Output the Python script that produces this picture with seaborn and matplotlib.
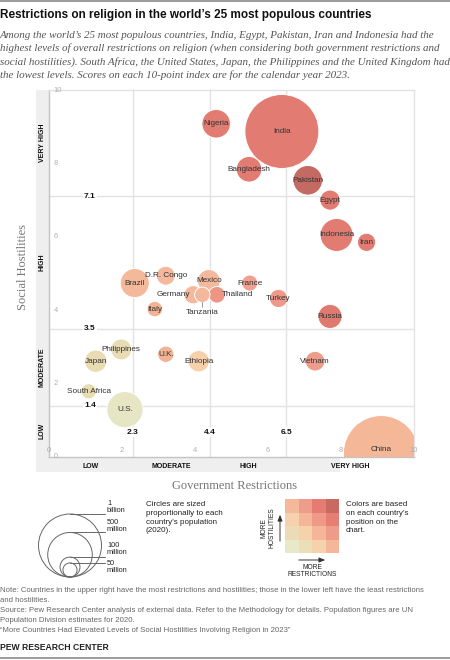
import matplotlib
matplotlib.use("Agg")
import matplotlib.pyplot as plt
import seaborn as sns
import pandas as pd
import numpy as np
from matplotlib.patches import Rectangle, Circle

sns.set_theme(style="white")
SANS = ['Liberation Sans Narrow', 'Liberation Sans', 'DejaVu Sans']
SERIF = ['Liberation Serif', 'DejaVu Serif']
plt.rcParams['font.family'] = SANS

# ---------------- data ----------------
countries = ["China", "India", "U.S.", "Indonesia", "Pakistan", "Brazil", "Nigeria",
             "Bangladesh", "Russia", "Mexico", "Japan", "Ethiopia", "Philippines",
             "Egypt", "Vietnam", "D.R. Congo", "Turkey", "Iran", "Germany",
             "Thailand", "U.K.", "France", "Italy", "Tanzania", "South Africa"]
gri = [9.1, 6.38, 2.08, 7.88, 7.09, 2.35, 4.58, 5.48, 7.70, 4.38, 1.28, 4.10, 1.98,
       7.70, 7.29, 3.20, 6.29, 8.70, 3.95, 4.60, 3.20, 5.50, 2.90, 4.20, 1.09]
shi = [0.1, 8.87, 1.29, 6.05, 7.54, 4.74, 9.08, 7.84, 3.83, 4.80, 2.61, 2.61, 2.93,
       7.0, 2.61, 4.94, 4.32, 5.85, 4.42, 4.42, 2.80, 4.74, 4.03, 4.42, 1.79]
population = [1439, 1380, 331, 274, 221, 213, 206, 165, 146, 129, 126, 115, 110,
              102, 97, 90, 84, 84, 84, 70, 68, 65, 60, 60, 59]  # millions, 2020

gri_thresholds = [2.3, 4.4, 6.5]
shi_thresholds = [1.4, 3.5, 7.1]
level_names = ["LOW", "MODERATE", "HIGH", "VERY HIGH"]
tick_values = [0, 2, 4, 6, 8, 10]
legend_pops = [1000, 500, 100, 50]
legend_labels = ["1\nbillion", "500\nmillion", "100\nmillion", "50\nmillion"]

# bivariate palette rows: bottom (low hostility) -> top ; cols: low -> very high restrictions
grid_colors = [
    ["#e8e9c8", "#ecdfb8", "#f5d2ac", "#f4b898"],
    ["#ebdcb5", "#f5d2ac", "#f4b598", "#ef9b8a"],
    ["#f6d1ad", "#f4b599", "#ef9a89", "#e67e74"],
    ["#f4b89a", "#ee9c8b", "#e47c72", "#c96a62"],
]
point_colors = {
    "China": "#f4b898", "India": "#e27c72", "U.S.": "#e6e6c4", "Indonesia": "#e27c72",
    "Pakistan": "#c56a62", "Brazil": "#f4b99b", "Nigeria": "#e27c72", "Bangladesh": "#e27c72",
    "Russia": "#e07a70", "Mexico": "#f4b89c", "Japan": "#e9dcb3", "Ethiopia": "#f5d0aa",
    "Philippines": "#e8dcb2", "Egypt": "#e27c72", "Vietnam": "#ee9c8c", "D.R. Congo": "#f4b89c",
    "Turkey": "#ee9a8a", "Iran": "#e27c72", "Germany": "#f4b89c", "Thailand": "#ee9585",
    "U.K.": "#f2b394", "France": "#f0a090", "Italy": "#f3b294", "Tanzania": "#f4b89c",
    "South Africa": "#e8dcb2",
}

df = pd.DataFrame({"country": countries, "gri": gri, "shi": shi, "pop": population})
df = df.sort_values("pop", ascending=False)

W, H = 450, 660
fig = plt.figure(figsize=(W / 100, H / 100), dpi=100)
fig.patch.set_facecolor("white")

def fx(px):
    return px / W

def fy(py):
    return 1 - py / H

# background/decor axes in pixel coordinates
deco = fig.add_axes([0, 0, 1, 1], zorder=0)
deco.set_xlim(0, W)
deco.set_ylim(H, 0)
deco.axis("off")

# grey bands
deco.add_patch(Rectangle((36, 90), 13, 382, color="#efefef", lw=0))
deco.add_patch(Rectangle((36, 457), 304, 15, color="#efefef", lw=0))
# rules
deco.plot([0, W], [1, 1], color="#8a8a8a", lw=1.2)
deco.plot([0, W], [658, 658], color="#8a8a8a", lw=1.2)

# main axes
AX_L, AX_R, AX_T, AX_B = 49, 414, 90, 457
ax = fig.add_axes([fx(AX_L), fy(AX_B), (AX_R - AX_L) / W, (AX_B - AX_T) / H], zorder=1)
ax.set_facecolor("white")
ax.set_xlim(0, 10)
ax.set_ylim(0, 10)

for t in gri_thresholds:
    ax.axvline(t, color="#e2e2e2", lw=1, zorder=0)
for t in shi_thresholds:
    ax.axhline(t, color="#e2e2e2", lw=1, zorder=0)

k = 2.057  # points^2 per million people
sns.scatterplot(data=df, x="gri", y="shi", hue="country", palette=point_colors,
                size="pop", sizes=(k * df["pop"].min(), k * df["pop"].max()),
                legend=False, edgecolor="white", linewidth=0.7, alpha=1, ax=ax, zorder=3)

# country labels
offsets = {"Germany": (-2, 0, "right"), "Thailand": (3.5, 0, "left"),
           "Tanzania": (0, -12.5, "center"), "China": (0, 3, "center")}
for _, r in df.iterrows():
    dx, dy, ha = offsets.get(r["country"], (0, 0, "center"))
    ax.annotate(r["country"], (r["gri"], r["shi"]), xytext=(dx, dy), textcoords="offset points",
                ha=ha, va="center", fontsize=5.9, color="#333333", zorder=5)
tz = df[df["country"] == "Tanzania"].iloc[0]
ax.plot([tz["gri"], tz["gri"]], [tz["shi"] - 0.19, tz["shi"] - 0.32], color="#888888", lw=0.6, zorder=4)

# threshold value labels
bb = dict(boxstyle="square,pad=0.15", fc="white", ec="none")
for t in shi_thresholds:
    ax.text(1.12, t, f"{t}", ha="center", va="center", fontsize=6, fontweight="bold",
            color="#111111", bbox=bb, zorder=2)
for t in gri_thresholds:
    ax.text(t, 0.68, f"{t}", ha="center", va="center", fontsize=6, fontweight="bold",
            color="#111111", bbox=bb, zorder=2)

# spines / ticks
for s in ["top", "right"]:
    ax.spines[s].set_color("#e2e2e2")
    ax.spines[s].set_linewidth(1)
for s in ["left", "bottom"]:
    ax.spines[s].set_color("#c4c4c4")
    ax.spines[s].set_linewidth(1)
ax.set_xticks(tick_values)
ax.set_yticks(tick_values)
ax.tick_params(axis="both", direction="in", length=3.5, width=0.7, color="#bbbbbb",
               labelleft=False, labelbottom=False)
ax.set_xlabel("")
ax.set_ylabel("")
for t in tick_values:
    ax.annotate(f"{t}", (0, t), xytext=(3.5, 0), textcoords="offset points",
                ha="left", va="center", fontsize=5.5, color="#b0b0b0", annotation_clip=False)
    if t > 0:
        ax.annotate(f"{t}", (t, 0), xytext=(0, 5), textcoords="offset points",
                    ha="center", va="center", fontsize=5.5, color="#b0b0b0", annotation_clip=False)
ax.annotate("0", (0, 0), xytext=(0, 5), textcoords="offset points",
            ha="center", va="center", fontsize=5.5, color="#b0b0b0", annotation_clip=False)

# level labels in the bands
gx = [0] + gri_thresholds + [10]
gy = [0] + shi_thresholds + [10]
for i, name in enumerate(level_names):
    xm = (gx[i] + gx[i + 1]) / 2
    ax.annotate(name, (xm, 0), xytext=(0, -6.5), textcoords="offset points", ha="center",
                va="center", fontsize=5, fontweight="bold", color="#111111", annotation_clip=False)
    ym = (gy[i] + gy[i + 1]) / 2
    ax.annotate(name, (0, ym), xytext=(-5, 0), textcoords="offset points", ha="center",
                va="center", rotation=90, fontsize=5, fontweight="bold", color="#111111",
                annotation_clip=False)

# axis titles
fig.text(fx(23), fy(267), "Social Hostilities", rotation=90, ha="center", va="center",
         fontsize=9, color="#777777", family=SERIF)
fig.text(fx(235), fy(486), "Government Restrictions", ha="center", va="center",
         fontsize=9, color="#777777", family=SERIF)

# title and subtitle
fig.text(fx(0), fy(15), "Restrictions on religion in the world\u2019s 25 most populous countries",
         ha="left", va="center", fontsize=8.5, fontweight="bold", color="#111111")
sub = ["Among the world\u2019s 25 most populous countries, India, Egypt, Pakistan, Iran and Indonesia had the",
       "highest levels of overall restrictions on religion (when considering both government restrictions and",
       "social hostilities). South Africa, the United States, Japan, the Philippines and the United Kingdom had",
       "the lowest levels. Scores on each 10-point index are for the calendar year 2023."]
for i, line in enumerate(sub):
    fig.text(fx(0), fy(35 + i * 13.3), line, ha="left", va="center", fontsize=7.95,
             style="italic", color="#555555", family=SERIF)

# size legend
cx, base = 70, 577
px_per_pt = 100 / 72
label_y = [507, 526, 549, 567]
for p, lab, ly in zip(legend_pops, legend_labels, label_y):
    rpx = np.sqrt(k * p) / 2 * px_per_pt
    deco.add_patch(Circle((cx, base - rpx), rpx, fill=False, ec="#666666", lw=0.7))
    top = base - 2 * rpx
    deco.plot([cx, 105], [top, top], color="#666666", lw=0.7)
    deco.text(107, ly, lab, ha="left", va="center", fontsize=5.3, color="#222222",
              linespacing=1.0)
deco.text(146, 501, "Circles are sized\nproportionally to each\ncountry\u2019s population\n(2020).",
          ha="left", va="top", fontsize=5.8, color="#222222", linespacing=1.35)

# colour legend
gx0, gy0, cs = 285, 499, 13.5
for row in range(4):
    for col in range(4):
        deco.add_patch(Rectangle((gx0 + col * cs, gy0 + (3 - row) * cs), cs, cs,
                                 color=grid_colors[row][col], lw=0))
deco.annotate("", xy=(280, 512), xytext=(280, 544),
              arrowprops=dict(arrowstyle="-|>,head_length=0.3,head_width=0.12", color="#333333", lw=0.7))
deco.text(268, 528, "MORE\nHOSTILITIES", rotation=90, ha="center", va="center", fontsize=4.8,
          color="#222222", linespacing=1.0)
deco.annotate("", xy=(328, 560), xytext=(296, 560),
              arrowprops=dict(arrowstyle="-|>,head_length=0.3,head_width=0.12", color="#333333", lw=0.7))
deco.text(312, 571, "MORE\nRESTRICTIONS", ha="center", va="center", fontsize=4.8,
          color="#222222", linespacing=1.0)
deco.text(346, 501, "Colors are based\non each country\u2019s\nposition on the\nchart.",
          ha="left", va="top", fontsize=5.8, color="#222222", linespacing=1.35)

# notes
notes = ["Note: Countries in the upper right have the most restrictions and hostilities; those in the lower left have the least restrictions",
         "and hostilities.",
         "Source: Pew Research Center analysis of external data. Refer to the Methodology for details. Population figures are UN",
         "Population Division estimates for 2020.",
         "\u201cMore Countries Had Elevated Levels of Social Hostilities Involving Religion in 2023\u201d"]
note_y = [591, 601, 611, 620, 631]
for line, yy in zip(notes, note_y):
    deco.text(0, yy, line, ha="left", va="center", fontsize=5.6, color="#666666")
deco.text(0, 648, "PEW RESEARCH CENTER", ha="left", va="center", fontsize=6.2,
          fontweight="bold", color="#222222")

fig.savefig("out.png", dpi=100)
